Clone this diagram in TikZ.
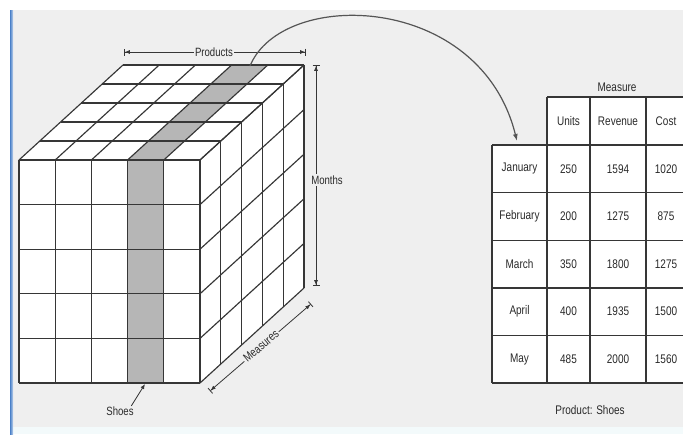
\documentclass[tikz,border=0pt]{standalone}
\usepackage{fontspec}
\setmainfont{Liberation Sans}
\newfontfamily\narrowfont[FakeStretch=0.8]{Liberation Sans}
\usetikzlibrary{arrows.meta}

\definecolor{bgpanel}{HTML}{EFEFEF}
\definecolor{gridline}{HTML}{363636}
\definecolor{shadecol}{HTML}{B6B6B6}
\definecolor{frameblue}{HTML}{4A80C8}
\definecolor{footband}{HTML}{F3FAFB}
\definecolor{textgray}{HTML}{2A2A2A}
\definecolor{linkgray}{HTML}{555555}

\tikzset{
  cubeline/.style={draw=gridline, line width=1.15pt},
  dimarrow/.style={draw=gridline, line width=0.8pt,
    {Bar[width=7pt,line width=0.8pt]Latex[length=5pt,width=4pt]}-{Latex[length=5pt,width=4pt]Bar[width=7pt,line width=0.8pt]}},
  dimlabel/.style={fill=bgpanel, inner sep=1.5pt, text=textgray,
    font=\narrowfont\fontsize{12}{14}\selectfont},
  cell/.style={text=textgray, inner sep=0pt,
    font=\narrowfont\fontsize{12.5}{14}\selectfont},
  tableline/.style={draw=gridline, line width=1.4pt},
  linkarrow/.style={draw=linkgray, line width=1.2pt, -{Latex[length=7pt,width=5pt]}},
  pointer/.style={draw=gridline, line width=0.8pt, -{Latex[length=5pt,width=4pt]}},
}

\begin{document}
\begin{tikzpicture}[x=1pt,y=-1pt]
\useasboundingbox (0,0) rectangle (683,434);
\clip (0,0) rectangle (683,434);

% page background, frame strip and footer band
\fill[white] (0,0) rectangle (683,434);
\fill[bgpanel] (10,10) rectangle (683,427);
\fill[footband] (10,427) rectangle (683,434);
\shade[left color=frameblue, right color=frameblue!35] (10,10) rectangle (13,434);

% ---------------- data cube ----------------
% faces
\fill[white] (19,160) rectangle (200,383);
\fill[white] (19,160) -- (200,160) -- (304,65) -- (123,65) -- cycle;
\fill[white] (200,160) -- (304,65) -- (304,288) -- (200,383) -- cycle;
% highlighted product slice (front column and its top strip)
\fill[shadecol] (127.6,160) rectangle (163.8,383);
\fill[shadecol] (127.6,160) -- (163.8,160) -- (267.8,65) -- (231.6,65) -- cycle;

% grid lines
\foreach \i in {0,...,5} {
  \draw[cubeline] ({19+36.2*\i},160) -- ({19+36.2*\i},383);
  \draw[cubeline] ({19+36.2*\i},160) -- ++(104,-95);
}
\foreach \j in {0,...,5} {
  \draw[cubeline] (19,{160+44.6*\j}) -- (200,{160+44.6*\j});
  \draw[cubeline] (200,{160+44.6*\j}) -- ++(104,-95);
}
\foreach \k in {1,...,5} {
  \draw[cubeline] ({19+20.8*\k},{160-19*\k}) -- ++(181,0);
  \draw[cubeline] ({200+20.8*\k},{160-19*\k}) -- ++(0,223);
}

% dimension arrows
\coordinate (prodL) at (124,52);
\coordinate (prodR) at (306,52);
\draw[dimarrow] (prodL) -- (prodR);
\node[dimlabel] (prodlabel) at (214,52) {Products};

\coordinate (monT) at (316,65);
\coordinate (monB) at (316,286);
\draw[dimarrow] (monT) -- (monB);
\node[dimlabel] (monlabel) at (327,180) {Months};

\coordinate (measL) at (210,391);
\coordinate (measR) at (311,304);
\draw[dimarrow] (measL) -- (measR);
\node[dimlabel, rotate=40.5] (measlabel) at (261,346) {Measures};

% slice pointer
\node[dimlabel, fill=none] (shoes) at (120,411) {Shoes};
\coordinate (slicebottom) at (145,384);
\draw[pointer] (shoes.north east) ++(-4,1) -- (slicebottom);

% ---------------- extracted slice table ----------------
\fill[white] (547,97) rectangle (686,145);
\fill[white] (492,145) rectangle (686,383);
\draw[tableline] (547,97) -- (686,97);
\foreach \y in {145,192.6,240.2,287.8,335.4,383}
  \draw[tableline] (492,\y) -- (686,\y);
\draw[tableline] (492,145) -- (492,383);
\foreach \x in {547,590,646}
  \draw[tableline] (\x,97) -- (\x,383);

\node[cell] (measure) at (617,87) {Measure};
\node[cell] (hunits) at (568.5,121) {Units};
\node[cell] (hrev) at (618,121) {Revenue};
\node[cell] (hcost) at (666,121) {Cost};

\foreach \mon/\u/\r/\c [count=\n] in {January/250/1594/1020, February/200/1275/875,
    March/350/1800/1275, April/400/1935/1500, May/485/2000/1560} {
  \pgfmathsetmacro{\yy}{145+47.6*(\n-0.5)}
  \node[cell] (mon\n) at (519.5,\yy) {\mon};
  \node[cell] (units\n) at (568.5,\yy) {\u};
  \node[cell] (rev\n) at (618,\yy) {\r};
  \node[cell] (cost\n) at (666,\yy) {\c};
}

\node[cell] (slicename) at (590,410) {Product: Shoes};

% link from the cube slice to the table
\coordinate (arcstart) at (250,66);
\coordinate (arcend) at (517,141);
\draw[linkarrow] (arcstart) .. controls (282,-12) and (480,-8) .. (arcend);
\end{tikzpicture}
\end{document}
